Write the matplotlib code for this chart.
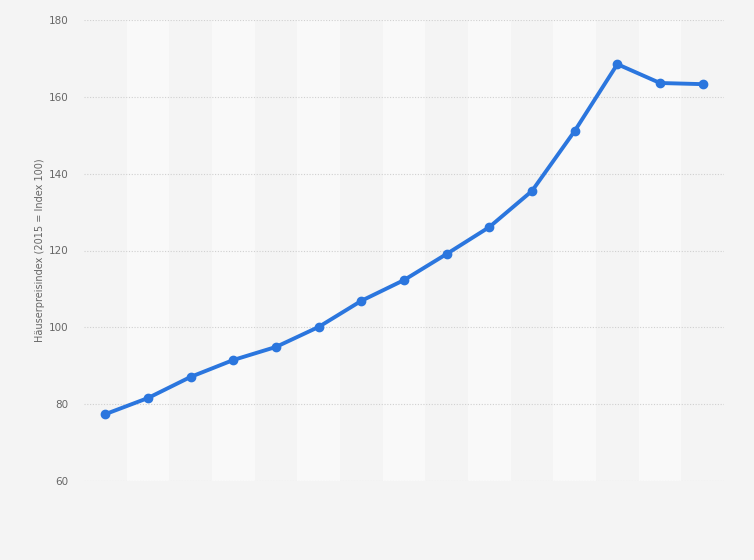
import matplotlib
matplotlib.use('Agg')
import matplotlib.pyplot as plt

# Häuserpreisindex, 15 Jahre (keine Achsenbeschriftung auf x)
years = list(range(2010, 2025))
index_values = [77.4, 81.6, 87.1, 91.5, 94.9, 100.1, 106.9, 112.3,
                119.1, 126.1, 135.5, 151.1, 168.5, 163.6, 163.3]
y_ticks = [60, 80, 100, 120, 140, 160, 180]

bg = '#f4f4f4'
fig = plt.figure(figsize=(7.54, 5.6), dpi=100, facecolor=bg)
ax = fig.add_axes([84 / 754, 1 - 481 / 560, 640 / 754, 461 / 560])
ax.set_facecolor(bg)

x = list(range(len(years)))

# alternating vertical stripes
for i in x:
    if i % 2 == 1:
        ax.axvspan(i - 0.5, i + 0.5, color='#f9f9f9', zorder=0, lw=0)

ax.set_ylim(60, 180)
ax.set_xlim(-0.5, len(years) - 0.5)
ax.set_yticks(y_ticks)
ax.yaxis.grid(True, linestyle=(0, (1, 1.5)), color='#d0d0d0', linewidth=0.8)
ax.set_axisbelow(True)

ax.plot(x, index_values, color='#2b76de', linewidth=2.8, marker='o',
        markersize=6, zorder=3, solid_capstyle='round')

for s in ax.spines.values():
    s.set_visible(False)
ax.set_xticks([])
ax.tick_params(axis='y', length=0, pad=11, labelsize=7.5, labelcolor='#666666')
ax.set_ylabel('Häuserpreisindex (2015 = Index 100)', fontsize=7,
              color='#666666', labelpad=3)

fig.savefig('out.png', dpi=100, facecolor=bg)
